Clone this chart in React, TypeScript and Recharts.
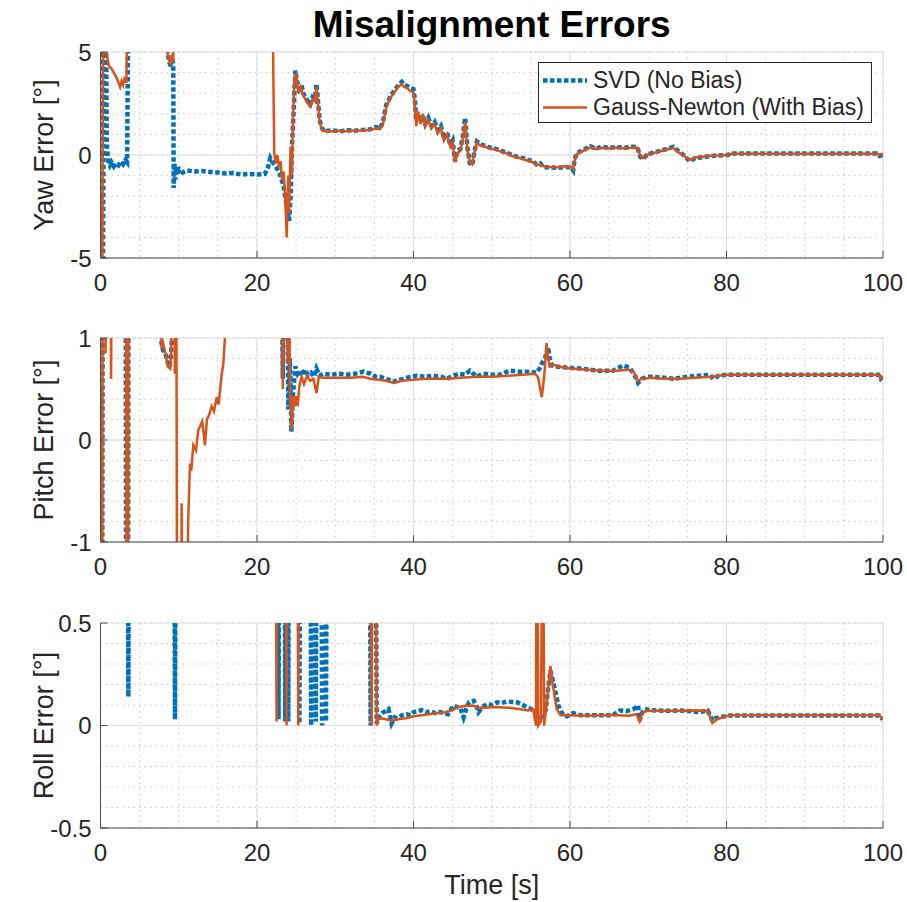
import React from 'react';
import { LineChart, Line, XAxis, YAxis, CartesianGrid, Legend } from 'recharts';

type Pt = [number, number];

const FONT = '"Liberation Sans", Arial, Helvetica, sans-serif';
const TEXT = '#262626';
const BOX = '#4d4d4d';
const BLUE = '#0072BD';
const ORANGE = '#D95319';

const chartTitle = 'Misalignment Errors';
const seriesNames = ['SVD (No Bias)', 'Gauss-Newton (With Bias)'];
const xTitle = 'Time [s]';
const panelLabels = ['Yaw Error [°]', 'Pitch Error [°]', 'Roll Error [°]'];

const xMajorTicks = [0, 20, 40, 60, 80, 100];
const xMinorTicks = [0, 5, 10, 15, 20, 25, 30, 35, 40, 45, 50, 55, 60, 65, 70, 75, 80, 85, 90, 95, 100];
const yawTicks = [-5, 0, 5];
const yawMinorTicks = [-5, -4, -3, -2, -1, 0, 1, 2, 3, 4, 5];
const pitchTicks = [-1, 0, 1];
const pitchMinorTicks = [-1, -0.8, -0.6, -0.4, -0.2, 0, 0.2, 0.4, 0.6, 0.8, 1];
const rollTicks = [-0.5, 0, 0.5];
const rollMinorTicks = [-0.5, -0.4, -0.3, -0.2, -0.1, 0, 0.1, 0.2, 0.3, 0.4, 0.5];

const yawSvd: Pt[] = [
  [0, 6], [0.15, -7], [0.3, -7], [0.45, 7], [0.7, 7], [0.8, 0.6], [0.9, 0.1], [1.0, -0.3], [1.2, -0.5], [1.4, -0.35],
  [1.7, -0.55], [2.0, -0.4], [2.3, -0.5], [2.6, -0.3], [2.9, -0.45], [3.2, -0.25], [3.4, -0.35], [3.55, 7], [8.5, 7],
  [8.6, 4.9], [8.8, 4.5], [9.0, 4.3], [9.15, 4.7], [9.3, 4.4], [9.35, -1.6], [9.45, -0.4], [9.55, -1.2], [9.65, -0.6],
  [9.8, -0.9], [10.1, -0.7], [10.5, -0.85], [11, -0.75], [12, -0.8], [13, -0.78], [14, -0.82], [15, -0.85], [16, -0.9],
  [17, -0.88], [18, -0.95], [19, -0.92], [20, -0.95], [21, -0.92], [21.4, -0.6], [21.7, -0.15], [22.0, -0.35],
  [22.4, -0.55], [22.9, -0.9], [23.4, -1.5], [23.8, -2.5], [24.1, -3.2], [24.3, -2.0], [24.5, 0.7], [24.7, 2.3],
  [24.9, 4.1], [25.1, 3.6], [25.4, 3.2], [25.7, 3.4], [25.9, 3.0], [26.2, 2.8], [26.5, 2.6], [26.8, 2.45], [27.1, 2.8],
  [27.4, 2.7], [27.6, 3.45], [27.8, 2.6], [28.0, 1.7], [28.3, 1.3], [28.6, 1.15], [29.5, 1.2], [30.5, 1.15], [31.5, 1.2],
  [32.5, 1.18], [33.5, 1.22], [34.5, 1.25], [35.2, 1.35], [35.7, 1.28], [36.1, 1.6], [36.5, 2.4], [37.0, 2.8],
  [37.5, 3.1], [38.0, 3.35], [38.5, 3.55], [38.8, 3.4], [39.2, 3.35], [39.6, 3.25], [40.0, 3.2], [40.2, 2.6],
  [40.35, 1.7], [40.6, 2.0], [40.9, 1.6], [41.2, 1.9], [41.5, 1.5], [41.9, 1.8], [42.3, 1.4], [42.7, 1.6], [43.1, 1.2],
  [43.5, 1.4], [43.9, 0.8], [44.3, 1.1], [44.7, 0.5], [45.0, 0.7], [45.3, -0.3], [45.6, 0.2], [46.0, 0.3], [46.3, 0.9],
  [46.6, 1.8], [46.9, 0.3], [47.2, -0.4], [47.5, -0.5], [47.8, 0.2], [48.1, 0.65], [48.6, 0.5], [49.2, 0.45],
  [49.8, 0.35], [50.5, 0.3], [51.2, 0.2], [51.9, 0.1], [52.6, 0.0], [53.3, -0.1], [54.0, -0.15], [54.7, -0.25],
  [55.3, -0.3], [55.7, -0.45], [56.2, -0.4], [56.6, -0.6], [57.4, -0.6], [58.5, -0.62], [59.5, -0.58], [60.1, -0.6],
  [60.4, -0.75], [60.6, -0.2], [60.9, 0.1], [61.5, 0.2], [62.0, 0.3], [62.6, 0.42], [63.3, 0.3], [64.0, 0.4],
  [65.0, 0.35], [66.0, 0.38], [67.0, 0.35], [68.0, 0.4], [68.6, 0.38], [69.0, -0.1], [69.3, -0.2], [69.8, 0.0],
  [70.5, 0.1], [71.5, 0.2], [72.5, 0.3], [73.2, 0.4], [73.8, 0.2], [74.5, 0.0], [75.3, -0.3], [76.0, -0.15],
  [77.0, -0.1], [78.0, -0.05], [79.0, -0.02], [80.2, 0.0], [80.5, 0.07], [85, 0.07], [90, 0.07], [95, 0.07],
  [99.2, 0.07], [99.6, -0.05], [100, 0.05],
];

const yawGn: Pt[] = [
  [0, -2], [0.08, -7], [0.22, -7], [0.35, 7], [0.65, 7], [0.8, 4.8], [1.1, 4.3], [1.4, 4.2], [1.7, 4.0], [2.0, 3.8],
  [2.3, 3.5], [2.5, 3.3], [2.7, 3.6], [2.9, 3.4], [3.1, 3.8], [3.3, 3.5], [3.45, 7], [8.4, 7], [8.6, 4.8], [8.9, 4.45],
  [9.1, 4.75], [9.3, 4.5], [9.4, 7], [22.0, 7], [22.2, 0.1], [22.4, -0.4], [22.6, 0.0], [22.8, -0.6], [23.0, -0.3],
  [23.2, -1.2], [23.4, -0.8], [23.6, -2.0], [23.8, -4.0], [24.0, -1.0], [24.1, -2.8], [24.3, 0.4], [24.45, -1.0],
  [24.6, 1.8], [24.8, 3.8], [25.0, 3.9], [25.3, 3.0], [25.6, 3.3], [25.9, 2.9], [26.2, 2.7], [26.5, 2.5], [26.8, 2.35],
  [27.1, 2.7], [27.4, 2.6], [27.6, 3.3], [27.8, 2.5], [28.0, 1.6], [28.3, 1.25], [28.6, 1.15], [29.5, 1.15],
  [30.5, 1.18], [31.5, 1.15], [32.5, 1.2], [33.5, 1.18], [34.5, 1.22], [35.2, 1.3], [35.7, 1.25], [36.1, 1.5],
  [36.5, 2.3], [37.0, 2.75], [37.5, 3.0], [38.0, 3.3], [38.5, 3.45], [38.8, 3.3], [39.2, 3.25], [39.6, 3.1],
  [40.0, 3.05], [40.2, 2.3], [40.35, 1.4], [40.6, 2.1], [40.9, 1.5], [41.2, 2.0], [41.5, 1.4], [41.9, 1.7],
  [42.3, 1.3], [42.7, 1.5], [43.1, 1.05], [43.5, 1.3], [43.9, 0.7], [44.3, 1.0], [44.7, 0.4], [45.0, 0.6],
  [45.3, -0.35], [45.6, 0.1], [46.0, 0.2], [46.3, 0.8], [46.6, 1.6], [46.9, 0.2], [47.2, -0.35], [47.5, -0.45],
  [47.8, 0.15], [48.1, 0.6], [48.6, 0.45], [49.2, 0.4], [49.8, 0.3], [50.5, 0.28], [51.2, 0.15], [51.9, 0.08],
  [52.6, -0.05], [53.3, -0.12], [54.0, -0.2], [54.7, -0.28], [55.3, -0.35], [55.7, -0.5], [56.2, -0.45], [56.6, -0.55],
  [57.4, -0.58], [58.5, -0.6], [59.5, -0.55], [60.1, -0.58], [60.4, -0.7], [60.6, -0.25], [60.9, 0.05], [61.5, 0.18],
  [62.0, 0.25], [62.6, 0.38], [63.3, 0.28], [64.0, 0.35], [65.0, 0.32], [66.0, 0.36], [67.0, 0.32], [68.0, 0.36],
  [68.6, 0.35], [69.0, -0.05], [69.3, -0.15], [69.8, 0.0], [70.5, 0.08], [71.5, 0.18], [72.5, 0.28], [73.2, 0.35],
  [73.8, 0.15], [74.5, -0.02], [75.3, -0.25], [76.0, -0.12], [77.0, -0.08], [78.0, -0.04], [79.0, -0.02], [80.2, 0.0],
  [80.5, 0.06], [85, 0.06], [90, 0.06], [95, 0.06], [99.2, 0.06], [99.6, 0.0], [100, 0.06],
];

const pitchSvd: Pt[] = [
  [0, 0.5], [0.1, -3], [0.2, -3], [0.3, 3], [3.2, 3], [3.3, -3], [3.5, -3], [3.6, 3], [7.7, 3], [7.8, 0.95],
  [8.0, 0.88], [8.3, 0.85], [8.5, 0.78], [8.8, 0.72], [9.0, 0.82], [9.1, 0.95], [9.2, 3], [23.0, 3], [23.3, 0.6],
  [23.5, 3], [23.8, 3], [24.0, 0.3], [24.2, 0.8], [24.4, 0.08], [24.6, 0.45], [24.9, 0.72], [25.2, 0.65], [25.5, 0.68],
  [25.8, 0.63], [26.1, 0.69], [26.5, 0.64], [26.9, 0.66], [27.3, 0.62], [27.6, 0.7], [28.0, 0.63], [28.5, 0.65],
  [29.5, 0.64], [30.5, 0.65], [31.5, 0.64], [32.5, 0.65], [33.6, 0.67], [34.5, 0.65], [35.2, 0.62], [35.7, 0.62],
  [36.5, 0.6], [37.4, 0.57], [38.2, 0.59], [39.2, 0.61], [40.4, 0.63], [41.5, 0.62], [42.5, 0.63], [43.5, 0.62],
  [44.3, 0.6], [45.0, 0.63], [45.8, 0.65], [46.6, 0.64], [47.2, 0.68], [48.1, 0.62], [48.9, 0.65], [50.0, 0.64],
  [51.0, 0.64], [52.3, 0.68], [53.5, 0.67], [54.8, 0.67], [55.7, 0.66], [56.1, 0.7], [56.4, 0.75], [56.8, 0.8],
  [57.2, 0.91], [57.4, 0.8], [57.7, 0.73], [58.2, 0.72], [59.5, 0.71], [61.3, 0.7], [63.5, 0.68], [65.5, 0.68],
  [66.8, 0.73], [67.6, 0.71], [68.3, 0.63], [68.7, 0.56], [69.2, 0.6], [69.8, 0.62], [70.5, 0.62], [72.0, 0.61],
  [73.2, 0.6], [75.0, 0.62], [76.5, 0.63], [77.9, 0.64], [78.3, 0.6], [79.0, 0.63], [80.0, 0.64], [85, 0.64],
  [90, 0.64], [95, 0.64], [99.4, 0.64], [99.7, 0.6], [100, 0.62],
];

const pitchGn: Pt[] = [
  [0, 0.3], [0.1, -3], [0.2, -3], [0.3, 3], [0.55, 3], [0.65, 0.85], [0.8, 3], [1.2, 3], [1.35, 0.6], [1.5, 3],
  [3.25, 3], [3.35, -3], [3.5, -3], [3.6, 3], [7.6, 3], [7.8, 0.9], [8.0, 0.95], [8.3, 0.85], [8.6, 0.72], [8.9, 0.7],
  [9.05, 0.9], [9.15, 3], [9.4, 3], [9.5, 0.65], [9.65, 3], [9.82, -3], [10.3, -3], [10.37, -0.62], [10.5, -3],
  [11.0, -3], [11.2, -0.8], [11.44, -0.23], [11.6, -0.3], [11.86, -0.05], [12.2, -0.1], [12.5, 0.1], [12.7, 0.13],
  [13.0, 0.18], [13.2, 0.05], [13.35, -0.05], [13.6, 0.2], [13.9, 0.25], [14.2, 0.33], [14.5, 0.28], [14.85, 0.42],
  [15.1, 0.35], [15.3, 0.5], [15.5, 0.65], [15.7, 0.75], [15.9, 1.0], [16.1, 3], [23.1, 3], [23.3, 0.5], [23.5, 3],
  [23.7, 3], [23.9, 0.75], [24.0, 3], [24.2, 0.55], [24.4, 0.1], [24.6, 0.43], [24.8, 0.33], [25.0, 0.43],
  [25.2, 0.33], [25.4, 0.52], [25.7, 0.62], [26.0, 0.55], [26.4, 0.63], [26.8, 0.58], [27.2, 0.6], [27.6, 0.46],
  [27.9, 0.62], [28.5, 0.61], [30, 0.61], [32, 0.61], [33.5, 0.62], [34.5, 0.6], [35.5, 0.59], [36.5, 0.58],
  [37.5, 0.56], [38.5, 0.58], [40, 0.59], [41.5, 0.6], [43, 0.6], [44.5, 0.6], [46, 0.61], [48, 0.62], [50, 0.62],
  [52, 0.63], [54, 0.64], [55.5, 0.65], [55.9, 0.62], [56.4, 0.42], [56.7, 0.62], [57.0, 0.95], [57.2, 0.8],
  [57.4, 0.72], [57.8, 0.74], [58.5, 0.72], [60, 0.7], [62, 0.69], [64, 0.68], [66, 0.68], [67.5, 0.69], [68.2, 0.66],
  [68.6, 0.58], [69.2, 0.6], [70.5, 0.61], [72, 0.6], [74, 0.6], [76, 0.61], [78, 0.62], [80, 0.64], [85, 0.64],
  [90, 0.64], [95, 0.64], [99.4, 0.64], [99.7, 0.6], [100, 0.62],
];

const rollSvd: Pt[] = [
  [0, 1.5], [3.45, 1.5], [3.56, 0.14], [3.67, 1.5], [9.4, 1.5], [9.52, 0.03], [9.64, 1.5], [22.6, 1.5],
  [22.75, 0.03], [22.9, 1.5], [23.5, 1.5], [23.62, 0.02], [23.75, 1.5], [23.9, 1.5], [24.0, 0.02], [24.1, 1.5],
  [25.3, 1.5], [25.42, 0.01], [25.55, 1.5], [26.8, 1.5], [26.92, 0.0], [27.05, 1.5], [27.4, 1.5], [27.52, 0.02],
  [27.65, 1.5], [28.2, 1.5], [28.32, 0.0], [28.45, 1.5], [28.7, 1.5], [28.82, 0.02], [28.95, 1.5], [34.4, 1.5],
  [34.52, 0.0], [34.65, 1.5], [35.1, 1.5], [35.3, 0.01], [35.5, 0.04], [35.7, 0.045], [36.0, 0.06], [36.4, 0.07],
  [36.8, 0.08], [37.2, 0.01], [37.6, 0.04], [37.9, 0.035], [38.5, 0.05], [39.1, 0.055], [39.6, 0.05], [40.0, 0.065],
  [40.5, 0.07], [41.0, 0.075], [41.6, 0.065], [42.2, 0.07], [42.8, 0.06], [43.4, 0.065], [44.0, 0.06], [44.4, 0.055],
  [45.1, 0.097], [45.6, 0.09], [46.0, 0.085], [46.4, 0.04], [46.8, 0.09], [47.1, 0.113], [47.7, 0.12], [48.0, 0.1],
  [48.3, 0.065], [48.8, 0.09], [49.4, 0.105], [50.0, 0.1], [50.7, 0.113], [51.3, 0.11], [52.0, 0.117], [52.7, 0.115],
  [53.3, 0.112], [54.1, 0.097], [55.0, 0.08], [55.6, 0.075], [56.0, 0.05], [56.3, 0.024], [56.6, 0.06], [56.9, 0.075],
  [57.2, 0.18], [57.5, 0.267], [57.8, 0.22], [58.2, 0.154], [58.5, 0.1], [58.8, 0.07], [59.2, 0.05], [59.6, 0.045],
  [60.4, 0.06], [61.3, 0.05], [63, 0.05], [65.5, 0.05], [66.4, 0.073], [67.2, 0.07], [68.1, 0.08], [68.5, 0.09],
  [68.7, 0.097], [68.9, 0.024], [69.2, 0.06], [69.5, 0.08], [70.2, 0.075], [71.0, 0.073], [72.5, 0.072], [74.0, 0.073],
  [75.5, 0.07], [76.5, 0.065], [77.6, 0.073], [78.2, 0.024], [78.6, 0.035], [79.1, 0.04], [80.4, 0.049], [85, 0.049],
  [90, 0.049], [95, 0.049], [99.5, 0.049], [100, 0.03],
];

const rollGn: Pt[] = [
  [0, 1.5], [22.35, 1.5], [22.5, 0.02], [22.65, 1.5], [23.65, 1.5], [23.78, 0.0], [23.9, 1.5], [25.15, 1.5],
  [25.28, 0.0], [25.4, 1.5], [34.5, 1.5], [34.65, 0.0], [34.8, 1.5], [35.1, 1.5], [35.3, 0.0], [35.5, 0.03],
  [35.8, 0.035], [36.5, 0.03], [37.2, 0.025], [38, 0.03], [39, 0.035], [40, 0.045], [41, 0.05], [42, 0.055],
  [43, 0.06], [44, 0.065], [45, 0.075], [45.6, 0.089], [46.5, 0.095], [47.5, 0.097], [48.5, 0.086], [49.5, 0.088],
  [50.5, 0.09], [51.5, 0.088], [52.5, 0.085], [53.5, 0.08], [54.6, 0.073], [55.3, 0.078], [55.65, 0.0], [55.75, 1.5],
  [55.95, 0.0], [56.3, 0.02], [56.5, 1.5], [56.7, 0.0], [57.0, 0.1], [57.5, 0.29], [57.8, 0.2], [58.3, 0.08],
  [58.8, 0.05], [60, 0.05], [62, 0.048], [64, 0.05], [66, 0.05], [67.5, 0.048], [68.5, 0.055], [68.9, 0.02],
  [69.3, 0.065], [70, 0.072], [72, 0.072], [74, 0.072], [76, 0.073], [77.6, 0.072], [78.2, 0.012], [78.8, 0.03],
  [79.5, 0.04], [80.4, 0.05], [85, 0.05], [90, 0.05], [95, 0.05], [99.5, 0.05], [100, 0.03],
];

const isIn = (v: number, arr: number[]) => arr.some((m) => Math.abs(m - v) < 1e-9);

const TICK_IN = 7;
const X_MARGIN = 16;
const Y_MARGIN = 9;
const TOP_PAD = 20;

const renderBottomTick = (props: any) => {
  const { x, y, payload } = props;
  const axisY = y - X_MARGIN;
  return (
    <g>
      <line x1={x} y1={axisY} x2={x} y2={axisY - TICK_IN} stroke={BOX} strokeWidth={1} />
      <text x={x} y={y} dy="0.71em" textAnchor="middle" fontSize={24} fill={TEXT} fontFamily={FONT}>
        {String(payload.value)}
      </text>
    </g>
  );
};

const renderTopTick = (props: any) => {
  const { x, y, payload } = props;
  if (!isIn(payload.value, xMajorTicks)) return <g />;
  return <line x1={x} y1={y} x2={x} y2={y + TICK_IN} stroke={BOX} strokeWidth={1} />;
};

const makeLeftTick = () => (props: any) => {
  const { x, y, payload } = props;
  const axisX = x + Y_MARGIN;
  return (
    <g>
      <line x1={axisX} y1={y} x2={axisX + TICK_IN} y2={y} stroke={BOX} strokeWidth={1} />
      <text x={x} y={y} dy="0.355em" textAnchor="end" fontSize={24} fill={TEXT} fontFamily={FONT}>
        {String(payload.value)}
      </text>
    </g>
  );
};

const makeRightTick = (major: number[]) => (props: any) => {
  const { x, y, payload } = props;
  if (!isIn(payload.value, major)) return <g />;
  return <line x1={x} y1={y} x2={x - TICK_IN} y2={y} stroke={BOX} strokeWidth={1} />;
};

const makeYLabel = (text: string) => (props: any) => {
  const vb = props.viewBox;
  const cx = vb.x + 53;
  const cy = vb.y + vb.height / 2;
  return (
    <text
      transform={`translate(${cx}, ${cy}) rotate(-90)`}
      textAnchor="middle"
      fontSize={27}
      fill={TEXT}
      fontFamily={FONT}
    >
      {text}
    </text>
  );
};

const renderXTitle = (props: any) => {
  const vb = props.viewBox;
  return (
    <text x={vb.x + vb.width / 2} y={vb.y + 66} textAnchor="middle" fontSize={27} fill={TEXT} fontFamily={FONT}>
      {xTitle}
    </text>
  );
};

const renderLegend = () => (
  <div
    style={{
      width: 334,
      height: 61,
      border: `1px solid ${TEXT}`,
      background: '#fff',
      boxSizing: 'border-box',
      position: 'relative',
      fontFamily: FONT,
      fontSize: 23,
      color: TEXT,
    }}
  >
    {seriesNames.map((name, i) => (
      <div
        key={name}
        style={{
          position: 'absolute',
          left: 0,
          top: 4 + i * 27,
          height: 27,
          display: 'flex',
          alignItems: 'center',
          whiteSpace: 'nowrap',
        }}
      >
        <svg width={54} height={27} style={{ display: 'block' }}>
          <line
            x1={4}
            x2={48}
            y1={13.5}
            y2={13.5}
            stroke={i === 0 ? BLUE : ORANGE}
            strokeWidth={i === 0 ? 4.5 : 2.5}
            strokeDasharray={i === 0 ? '4.5 2.5' : undefined}
          />
        </svg>
        <span style={{ lineHeight: '27px' }}>{name}</span>
      </div>
    ))}
  </div>
);

interface PanelProps {
  top: number;
  plotH: number;
  bottomH: number;
  svd: Pt[];
  gn: Pt[];
  domain: [number, number];
  major: number[];
  minor: number[];
  label: string;
  showXTitle?: boolean;
  showLegend?: boolean;
}

function Panel(p: PanelProps) {
  const svdData = p.svd.map(([t, v]) => ({ t, v }));
  const gnData = p.gn.map(([t, v]) => ({ t, v }));
  const height = TOP_PAD + p.plotH + p.bottomH;
  return (
    <div style={{ position: 'absolute', left: 0, top: p.top - TOP_PAD }}>
      <LineChart width={907} height={height} margin={{ top: TOP_PAD, right: 24, bottom: 0, left: 0 }}>
        <XAxis
          xAxisId="bottom"
          dataKey="t"
          type="number"
          domain={[0, 100]}
          ticks={xMajorTicks}
          interval={0}
          allowDataOverflow
          height={p.bottomH}
          tickLine={false}
          tickSize={0}
          tickMargin={X_MARGIN}
          axisLine={{ stroke: BOX, strokeWidth: 1 }}
          tick={renderBottomTick}
          label={p.showXTitle ? renderXTitle : undefined}
        />
        <XAxis
          xAxisId="top"
          orientation="top"
          dataKey="t"
          type="number"
          domain={[0, 100]}
          ticks={xMinorTicks}
          interval={0}
          allowDataOverflow
          height={0}
          tickLine={false}
          tickSize={0}
          tickMargin={0}
          axisLine={{ stroke: BOX, strokeWidth: 1 }}
          tick={renderTopTick}
        />
        <YAxis
          yAxisId="left"
          type="number"
          domain={p.domain}
          ticks={p.major}
          interval={0}
          allowDataOverflow
          width={100.5}
          tickLine={false}
          tickSize={0}
          tickMargin={Y_MARGIN}
          axisLine={{ stroke: BOX, strokeWidth: 1 }}
          tick={makeLeftTick()}
          label={makeYLabel(p.label)}
        />
        <YAxis
          yAxisId="right"
          orientation="right"
          type="number"
          domain={p.domain}
          ticks={p.minor}
          interval={0}
          allowDataOverflow
          width={0}
          tickLine={false}
          tickSize={0}
          tickMargin={0}
          axisLine={{ stroke: BOX, strokeWidth: 1 }}
          tick={makeRightTick(p.major)}
        />
        <CartesianGrid xAxisId="top" yAxisId="right" stroke="#c8c8c8" strokeDasharray="1.5 4" />
        <CartesianGrid xAxisId="bottom" yAxisId="left" stroke="#dedede" />
        <Line
          xAxisId="bottom"
          yAxisId="left"
          data={svdData}
          dataKey="v"
          name={seriesNames[0]}
          type="linear"
          stroke={BLUE}
          strokeWidth={4.5}
          strokeDasharray="4.5 2.5"
          dot={false}
          activeDot={false}
          isAnimationActive={false}
        />
        <Line
          xAxisId="bottom"
          yAxisId="left"
          data={gnData}
          dataKey="v"
          name={seriesNames[1]}
          type="linear"
          stroke={ORANGE}
          strokeWidth={2.5}
          dot={false}
          activeDot={false}
          isAnimationActive={false}
        />
        {p.showLegend && (
          <Legend
            layout="vertical"
            align="center"
            verticalAlign="middle"
            wrapperStyle={{ left: 538, top: 62 - (p.top - TOP_PAD), width: 334, height: 61 }}
            content={renderLegend}
          />
        )}
      </LineChart>
    </div>
  );
}

export default function App() {
  return (
    <div
      style={{
        position: 'absolute',
        left: 0,
        top: 0,
        width: 907,
        height: 902,
        overflow: 'hidden',
        background: '#fff',
        fontFamily: FONT,
      }}
    >
      <svg width={907} height={50} style={{ position: 'absolute', left: 0, top: 0 }}>
        <text x={491.75} y={37} textAnchor="middle" fontSize={37} fontWeight="bold" fill="#000" fontFamily={FONT}>
          {chartTitle}
        </text>
      </svg>
      <Panel top={52} plotH={206} bottomH={40} svd={yawSvd} gn={yawGn} domain={[-5, 5]} major={yawTicks} minor={yawMinorTicks} label={panelLabels[0]} showLegend />
      <Panel top={338} plotH={204} bottomH={40} svd={pitchSvd} gn={pitchGn} domain={[-1, 1]} major={pitchTicks} minor={pitchMinorTicks} label={panelLabels[1]} />
      <Panel top={623} plotH={205} bottomH={74} svd={rollSvd} gn={rollGn} domain={[-0.5, 0.5]} major={rollTicks} minor={rollMinorTicks} label={panelLabels[2]} showXTitle />
    </div>
  );
}
